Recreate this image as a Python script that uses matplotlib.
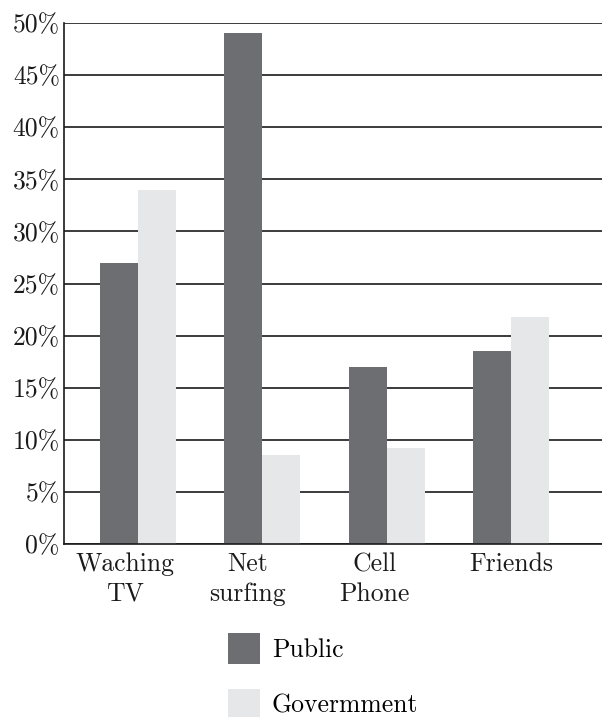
import matplotlib
matplotlib.use("Agg")
import matplotlib.pyplot as plt
import matplotlib.transforms as mtransforms
import numpy as np

categories = ["Waching\nTV", "Net\nsurfing", "Cell\nPhone", "Friends"]
public = [27, 49, 17, 18.5]
government = [34, 8.5, 9.2, 21.8]
yticks = [0, 5, 10, 15, 20, 25, 30, 35, 40, 45, 50]
ytick_labels = [f"{v}%" for v in yticks]

plt.rcParams['font.family'] = ['cmr10', 'DejaVu Serif']
plt.rcParams['mathtext.fontset'] = 'cm'
plt.rcParams['axes.unicode_minus'] = False

FS = 18.5

fig = plt.figure(figsize=(6.02, 7.17), dpi=100)
ax = fig.add_axes([64/602, 173/717, 1 - 64/602, (544-23)/717])

x = np.arange(len(categories))
w = 0.305
c_pub = "#6d6e71"
c_gov = "#e6e7e8"
b1 = ax.bar(x - w/2, public, width=w, color=c_pub, label="Public", zorder=3)
b2 = ax.bar(x + w/2, government, width=w, color=c_gov, label="Govermment", zorder=3)

ax.set_xlim(-0.594, 3.73)
ax.set_ylim(0, 50)
ax.set_yticks(yticks)
ax.set_yticklabels(ytick_labels)
ax.set_xticks(x)
ax.set_xticklabels(categories, linespacing=1.32)
ax.tick_params(axis='both', length=0, labelsize=FS, colors='#1a1a1a')
ax.tick_params(axis='y', pad=3)
ax.tick_params(axis='x', pad=6)

# label horizontal nudges (pixels), as in the reference layout
label_shift_px = [-13, -15, -12, 0]
for lab, dx in zip(ax.get_xticklabels(), label_shift_px):
    lab.set_transform(lab.get_transform() + mtransforms.ScaledTranslation(dx / 100, 0, fig.dpi_scale_trans))

ax.grid(axis='y', color='#1a1a1a', linewidth=1.2, zorder=1)
for s in ['top', 'right']:
    ax.spines[s].set_visible(False)
for s in ['left', 'bottom']:
    ax.spines[s].set_color('#1a1a1a')
    ax.spines[s].set_linewidth(1.2)
    ax.spines[s].set_zorder(4)

fig.legend(handles=[b1, b2], loc='upper left', bbox_to_anchor=(228/602, 1 - 633/717),
           frameon=False, fontsize=FS, handlelength=1.25, handleheight=1.45,
           handletextpad=0.45, labelspacing=1.0, borderpad=0, borderaxespad=0)

fig.savefig("out.png", dpi=100)
